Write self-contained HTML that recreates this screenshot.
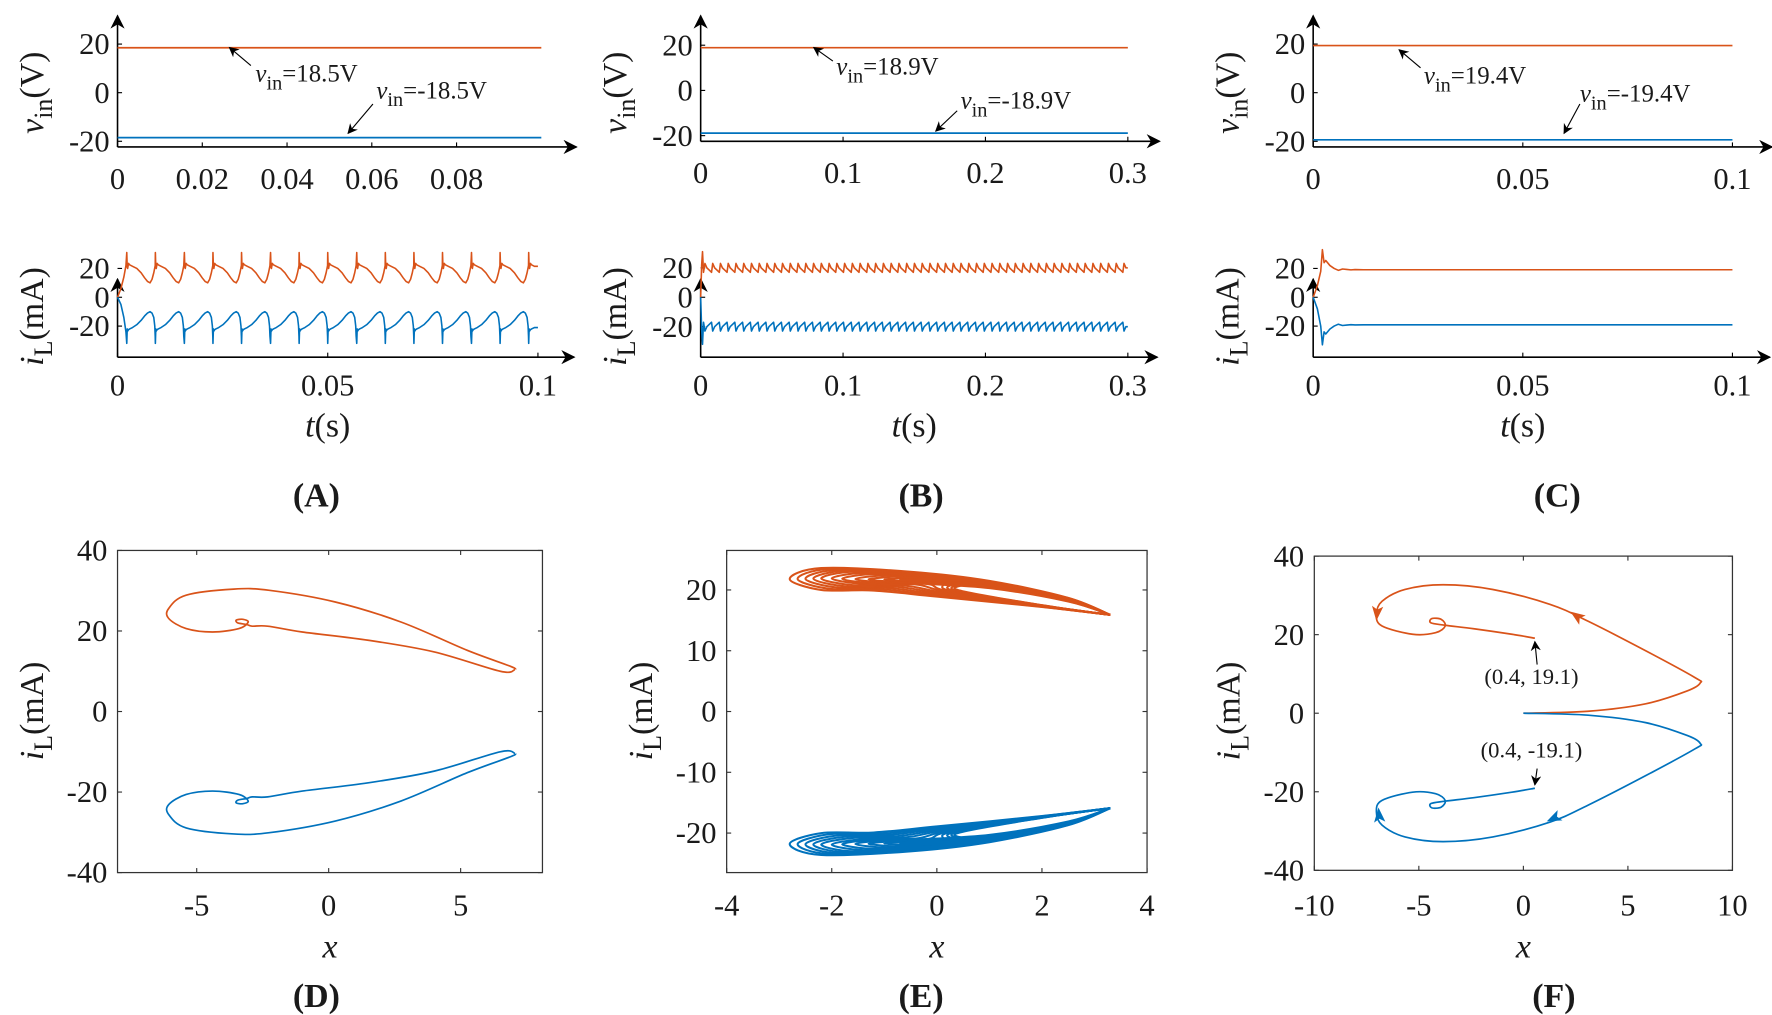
<!DOCTYPE html>
<html><head><meta charset="utf-8">
<style>
html,body{margin:0;padding:0;background:#fff;}
svg{display:block;}
text{font-family:"Liberation Serif",serif;fill:#1a1a1a;}
</style></head>
<body>
<svg id="fig" xmlns="http://www.w3.org/2000/svg" width="1772" height="1015" viewBox="0 0 1568 898" preserveAspectRatio="none">
<defs>
<marker id="ah" viewBox="0 0 10 10" refX="9" refY="5" markerWidth="9" markerHeight="9" orient="auto-start-reverse"><path d="M0,0 L10,5 L0,10 L3,5 Z" fill="#000"/></marker>
</defs>
<g id="root"></g>
</svg>
<script>
// ---------- DATA ----------
const RED = '#D95319', BLUE = '#0072BD';
const vinA = [18.5, -18.5];
const vinB = [18.9, -18.9];
const vinC = [19.4, -19.4];
const aSpikeT = [0.0022,0.0090,0.0159,0.0227,0.0295,0.0364,0.0432,0.0500,0.0569,0.0637,0.0705,0.0773,0.0842,0.0910,0.0978];
const aPeriod = 0.00683;
const aShapePhase = [0, 0.015, 0.03, 0.06, 0.1, 0.2, 0.35, 0.5, 0.62, 0.72, 0.81, 0.88, 0.94, 0.975, 0.99];
const aShapeRed   = [31, 21, 20, 23.5, 22.5, 21.5, 20, 17, 13.5, 11, 10, 12.5, 17, 20.5, 22];
const aShapeBlue  = [-32, -22, -23.5, -22.5, -22, -21, -19, -16, -13, -11, -10, -11, -14, -20, -27];
const aInitT = [0, 0.0008, 0.0015, 0.002];
const aInitRed = [0, 6, 14, 22];
const aInitBlue = [0, -5, -14, -24];
const bPeriod = 0.00545;
const bShapePhase = [0, 0.25, 0.55, 0.85];
const bShapeRed = [23, 20, 18.5, 17];
const bShapeBlue = [-23, -20, -18.5, -17];
const bInitT = [0, 0.0007, 0.0013, 0.002, 0.003];
const bInitRed = [0, 22, 31, 17, 23];
const bInitBlue = [0, -22, -32, -17, -23];
const cT = [0, 0.001, 0.0018, 0.0022, 0.0026, 0.003, 0.004, 0.005, 0.006, 0.007, 0.008, 0.009, 0.01, 0.012, 0.1];
const cRed = [0, 8, 18, 33, 24, 25.5, 22, 20, 18.7, 19.6, 19.3, 19, 19.2, 19.1, 19.1];
const cBlue = [0, -8, -20, -33, -24, -25.5, -22, -20, -18.7, -19.6, -19.3, -19, -19.2, -19.1, -19.1];
const dRedX = [7.06, 6.9, 5.25, 2.75, 0.25, -2.25, -3.6, -5.4, -6.06, -6.06, -5.4, -4.4, -3.4, -3.05, -3.25, -3.5, -3.44, -3.1, -2.9, -2.31, -1, 1.5, 4, 6.5, 7.06];
const dRedY = [10.4, 11.2, 15.2, 22.2, 27.2, 30.1, 30.4, 28.9, 25.6, 23.1, 20.6, 19.75, 20.6, 22.2, 22.9, 22.7, 22.0, 21.6, 21.2, 21.2, 19.75, 17.7, 14.8, 10.0, 10.4];
const dBlueX = [7.06, 6.9, 5.25, 2.75, 0.25, -2.25, -3.6, -5.4, -6.06, -6.06, -5.4, -4.4, -3.4, -3.05, -3.25, -3.5, -3.44, -3.1, -2.9, -2.31, -1, 1.5, 4, 6.5, 7.06];
const dBlueY = [-10.4, -11.2, -15.2, -22.2, -27.2, -30.1, -30.4, -28.9, -25.6, -23.1, -20.6, -19.75, -20.6, -22.2, -22.9, -22.7, -22.0, -21.6, -21.2, -21.2, -19.75, -17.7, -14.8, -10.0, -10.4];
const eLoopLeft = [-2.8, -2.65, -2.5, -2.35, -2.2, -2.0, -1.8, -1.55, -1.3, -1.0, -0.7];
const eRedTop = [23.6, 23.45, 23.3, 23.15, 23.0, 22.8, 22.6, 22.4, 22.2, 22.0, 21.8];
const eRedBot = [20.0, 20.2, 20.4, 20.6, 20.8, 21.0, 21.1, 21.2, 21.3, 21.4, 21.5];
const eBlueTop = [-23.6, -23.45, -23.3, -23.15, -23.0, -22.8, -22.6, -22.4, -22.2, -22.0, -21.8];
const eBlueBot = [-20.0, -20.2, -20.4, -20.6, -20.8, -21.0, -21.1, -21.2, -21.3, -21.4, -21.5];
const eRedTip = [3.3, 15.9];
const eBlueTip = [3.3, -15.9];
const eUpperX = [2.5, 1, -0.5];
const eRedUpperY = [18.7, 21.5, 23.0];
const eBlueUpperY = [-18.7, -21.5, -23.0];
const eReturnX = [0, 2];
const eRedReturnY = [18.9, 17.2];
const eBlueReturnY = [-18.9, -17.2];
const fRedX = [0, 3.1, 5.85, 7.85, 8.46, 8.2, 5.85, 3.1, 1.28, -1.46, -3.84, -5.66, -6.76, -7.03, -6.76, -5.3, -4.2, -3.74, -3.93, -4.38, -4.42, -3.74, -2.37, -0.55, 0.55];
const fRedY = [0, 0.5, 2.4, 5.7, 7.7, 9.1, 15.9, 23.4, 27.7, 31.5, 32.7, 31.5, 28.5, 25.1, 22.2, 20.1, 20.5, 22.2, 23.9, 24.1, 23.0, 22.4, 21.5, 20.1, 19.1];
const fBlueX = [0, 3.1, 5.85, 7.85, 8.46, 8.2, 5.85, 3.1, 1.28, -1.46, -3.84, -5.66, -6.76, -7.03, -6.76, -5.3, -4.2, -3.74, -3.93, -4.38, -4.42, -3.74, -2.37, -0.55, 0.55];
const fBlueY = [0, -0.5, -2.4, -5.7, -7.7, -9.1, -15.9, -23.4, -27.7, -31.5, -32.7, -31.5, -28.5, -25.1, -22.2, -20.1, -20.5, -22.2, -23.9, -24.1, -23.0, -22.4, -21.5, -20.1, -19.1];
const fArrowX = [2.56, -7.0, 1.46, -6.9];
const fArrowY = [24.7, 25.5, -26.7, -26.0];
const fArrowAng = [215, 95, 155, 265];
const ticksATop = ['0','0.02','0.04','0.06','0.08'];
const ticksAT = [0,0.02,0.04,0.06,0.08];
const ticksBT = [0,0.1,0.2,0.3];
const ticksCT = [0,0.05,0.1];
const ticksABot = [0,0.05,0.1];
const ticksVin = [20,0,-20];
const ticksIL = [20,0,-20];
const ticksDX = [-5,0,5], ticksDY = [40,20,0,-20,-40];
const ticksEX = [-4,-2,0,2,4], ticksEY = [20,10,0,-10,-20];
const ticksFX = [-10,-5,0,5,10], ticksFY = [40,20,0,-20,-40];

// ---------- HELPERS ----------
const NS = 'http://www.w3.org/2000/svg';
const root = document.getElementById('root');
const TF = 27, TITLE = 30;
function mk(tag, attrs, parent){ const e=document.createElementNS(NS,tag); for(const k in attrs) e.setAttribute(k,attrs[k]); (parent||root).appendChild(e); return e; }
function lin(d0,d1,r0,r1){ return v => r0 + (v-d0)/(d1-d0)*(r1-r0); }
function fmt(v){ return String(v); }
function polyD(xs,ys){ return xs.map((x,i)=>(i?'L':'M')+x.toFixed(2)+','+ys[i].toFixed(2)).join(''); }
function smoothD(P){
  let d='M'+P[0][0].toFixed(2)+','+P[0][1].toFixed(2);
  for(let i=0;i<P.length-1;i++){
    const p0=P[Math.max(0,i-1)],p1=P[i],p2=P[i+1],p3=P[Math.min(P.length-1,i+2)];
    const c1=[p1[0]+(p2[0]-p0[0])/6,p1[1]+(p2[1]-p0[1])/6];
    const c2=[p2[0]-(p3[0]-p1[0])/6,p2[1]-(p3[1]-p1[1])/6];
    d+='C'+c1[0].toFixed(2)+','+c1[1].toFixed(2)+' '+c2[0].toFixed(2)+','+c2[1].toFixed(2)+' '+p2[0].toFixed(2)+','+p2[1].toFixed(2);
  }
  return d;
}
function txt(x,y,s,size,anchor,parent,name){
  const t=mk('text',{x:x,y:y,'font-size':size,'text-anchor':anchor||'middle'},parent);
  t.textContent=s;
  
  
  return t;
}
function richLabel(x,y,parts,size,rotate,name){
  const t=mk('text',{x:x,y:y,'font-size':size,'text-anchor':'middle'});
  if(rotate) t.setAttribute('transform','rotate(-90 '+x+' '+y+')');
  
  
  parts.forEach(p=>{ const s=mk('tspan',{},t); s.textContent=p.t; if(p.i) s.setAttribute('font-style','italic'); if(p.dy) s.setAttribute('dy',p.dy); if(p.fs) s.setAttribute('font-size',p.fs); });
  return t;
}
function arrowAxes(g, x0, y0, xEnd, yTop, name){
  const a=mk('line',{x1:x0,y1:y0,x2:xEnd,y2:y0,stroke:'#000','stroke-width':1.4,'marker-end':'url(#ah)'},g);
  
  
  const b=mk('line',{x1:x0,y1:y0,x2:x0,y2:yTop,stroke:'#000','stroke-width':1.4,'marker-end':'url(#ah)'},g);
  
  
}
function series(g, d, color, name, w){
  const p=mk('path',{d:d,fill:'none',stroke:color,'stroke-width':w||1.5,'stroke-linejoin':'round'},g);
  
  
  return p;
}
function annot(g, tx, ty, x1,y1,x2,y2, valText, name){
  const l=mk('line',{x1:x1,y1:y1,x2:x2,y2:y2,stroke:'#000','stroke-width':1,'marker-end':'url(#ah)'},g);
  
  
  const t=mk('text',{x:tx,y:ty,'font-size':22},g);
  
  
  const a=mk('tspan',{'font-style':'italic'},t); a.textContent='v';
  const b=mk('tspan',{dy:7,'font-size':18},t); b.textContent='in';
  const c=mk('tspan',{dy:-7},t); c.textContent=valText;
}

// ---------- TOP TIME PANELS ----------
function topPanel(key, x0, xEndData, tMax, axisY, yScale, yMid, ticksT, tickLabels, vin, ann, labBase){
  const g=mk('g',{});  
  const X=lin(0,tMax,x0,xEndData); const Y=v=>yMid - v*yScale;
  arrowAxes(g,x0,axisY,x0+406,14,'vin-'+key);
  ticksT.forEach((t,i)=>{ mk('line',{x1:X(t),y1:axisY,x2:X(t),y2:axisY-4,stroke:'#000','stroke-width':1},g); txt(X(t),labBase,tickLabels?tickLabels[i]:fmt(t),TF,'middle',g,'x-tick-label'); });
  ticksVin.forEach(v=>{ mk('line',{x1:x0,y1:Y(v),x2:x0+4,y2:Y(v),stroke:'#000','stroke-width':1},g); txt(x0-7,Y(v)+9,fmt(v),TF,'end',g,'y-tick-label'); });
  series(g,polyD([X(0),X(tMax)],[Y(vin[0]),Y(vin[0])]),RED,'vin-positive-line');
  series(g,polyD([X(0),X(tMax)],[Y(vin[1]),Y(vin[1])]),BLUE,'vin-negative-line');
  annot(g,ann[0][0],ann[0][1],ann[0][2],ann[0][3],ann[0][4],ann[0][5],'='+vin[0]+'V','vin-positive-annotation');
  annot(g,ann[1][0],ann[1][1],ann[1][2],ann[1][3],ann[1][4],ann[1][5],'='+vin[1]+'V','vin-negative-annotation');
  richLabel(x0-66,82,[{t:'v',i:1},{t:'in',dy:8,fs:23},{t:'(V)',dy:-8}],TITLE,true,'vin-y-axis-title');
}
topPanel('a',104,479,0.1,130,2.15,82,ticksAT,ticksATop,vinA,[[226,72,222,58,203,42],[333,87,330,92,308,118]],167);
topPanel('b',620,998,0.3,125,2.0,80,ticksBT,null,vinB,[[740,66,737,54,720,42],[850,96,847,98,828,116]],162);
topPanel('c',1162,1533,0.1,130,2.15,82,ticksCT,null,vinC,[[1260,74,1257,60,1238,44],[1398,90,1398,92,1384,118]],167);

// ---------- BOTTOM TIME PANELS ----------
function periodicSeries(initT, initV, spikes, period, phase, vals, tMax){
  const ts=initT.slice(), vs=initV.slice();
  spikes.forEach(s=>{ phase.forEach((p,j)=>{ const t=s+p*period; if(t<=tMax){ ts.push(t); vs.push(vals[j]); } }); });
  const last=vs[vs.length-1]; ts.push(tMax); vs.push(last);
  return [ts,vs];
}
function bottomPanel(key, x0, xEndData, tMax, yScale, ticksT, seriesList){
  const g=mk('g',{});  
  const X=lin(0,tMax,x0,xEndData); const Y=v=>263 - v*yScale;
  arrowAxes(g,x0,316,x0+404,247,'il-'+key);
  ticksT.forEach(t=>{ mk('line',{x1:X(t),y1:316,x2:X(t),y2:312,stroke:'#000','stroke-width':1},g); txt(X(t),350,fmt(t),TF,'middle',g,'x-tick-label'); });
  ticksIL.forEach(v=>{ mk('line',{x1:x0,y1:Y(v),x2:x0+4,y2:Y(v),stroke:'#000','stroke-width':1},g); txt(x0-7,Y(v)+9,fmt(v),TF,'end',g,'y-tick-label'); });
  seriesList.forEach(s=>series(g,polyD(s[0].map(X),s[1].map(Y)),s[2],s[3],1.4));
  richLabel(x0-66,280,[{t:'i',i:1},{t:'L',dy:8,fs:23},{t:'(mA)',dy:-8}],TITLE,true,'il-y-axis-title');
  richLabel(X(tMax/2),386,[{t:'t',i:1},{t:'(s)'}],TITLE,false,'time-x-axis-title');
}
const aR=periodicSeries(aInitT,aInitRed,aSpikeT,aPeriod,aShapePhase,aShapeRed,0.1);
const aB=periodicSeries(aInitT,aInitBlue,aSpikeT,aPeriod,aShapePhase,aShapeBlue,0.1);
bottomPanel('a',104,476,0.1,1.275,ticksABot,[[aR[0],aR[1],RED,'il-positive-series'],[aB[0],aB[1],BLUE,'il-negative-series']]);
const bSpikes=[]; for(let t=bInitT[bInitT.length-1]; t<0.3; t+=bPeriod) bSpikes.push(t);
const bR=periodicSeries(bInitT.slice(0,-1),bInitRed.slice(0,-1),bSpikes,bPeriod,bShapePhase,bShapeRed,0.3);
const bB=periodicSeries(bInitT.slice(0,-1),bInitBlue.slice(0,-1),bSpikes,bPeriod,bShapePhase,bShapeBlue,0.3);
bottomPanel('b',620,998,0.3,1.3,ticksBT,[[bR[0],bR[1],RED,'il-positive-series'],[bB[0],bB[1],BLUE,'il-negative-series']]);
bottomPanel('c',1162,1533,0.1,1.275,ticksCT,[[cT,cRed,RED,'il-positive-series'],[cT,cBlue,BLUE,'il-negative-series']]);

[['(A)',280,448],['(B)',815,448],['(C)',1378,448],['(D)',280,891],['(E)',815,891],['(F)',1375,891]].forEach(p=>{
  const t=txt(p[1],p[2],p[0],30,'middle',root,'panel-label-'+p[0].charAt(1).toLowerCase());
  t.setAttribute('font-weight','bold');
});

// ---------- PHASE PANELS ----------
function boxPanel(key, bx0,bx1,by0,by1, xr, yr, tx, ty){
  const g=mk('g',{});  
  const X=lin(xr[0],xr[1],bx0,bx1), Y=lin(yr[0],yr[1],by1,by0);
  const r=mk('rect',{x:bx0,y:by0,width:bx1-bx0,height:by1-by0,fill:'none',stroke:'#333','stroke-width':1.1},g);
   
  tx.forEach(v=>{ mk('line',{x1:X(v),y1:by1,x2:X(v),y2:by1-4,stroke:'#333'},g); mk('line',{x1:X(v),y1:by0,x2:X(v),y2:by0+4,stroke:'#333'},g); txt(X(v),810,fmt(v),TF,'middle',g,'x-tick-label'); });
  ty.forEach(v=>{ mk('line',{x1:bx0,y1:Y(v),x2:bx0+4,y2:Y(v),stroke:'#333'},g); mk('line',{x1:bx1,y1:Y(v),x2:bx1-4,y2:Y(v),stroke:'#333'},g); txt(bx0-9,Y(v)+9,fmt(v),TF,'end',g,'y-tick-label'); });
  richLabel((bx0+bx1)/2,847,[{t:'x',i:1}],TITLE,false,'x-axis-title');
  richLabel(bx0-66,629,[{t:'i',i:1},{t:'L',dy:8,fs:23},{t:'(mA)',dy:-8}],TITLE,true,'il-y-axis-title');
  return {g:g,X:X,Y:Y};
}
const D=boxPanel('d',104,480,487,772,[-8,8.1],[-40,40],ticksDX,ticksDY);
series(D.g,smoothD(dRedX.map((x,i)=>[D.X(x),D.Y(dRedY[i])])),RED,'limit-cycle-positive');
series(D.g,smoothD(dBlueX.map((x,i)=>[D.X(x),D.Y(dBlueY[i])])),BLUE,'limit-cycle-negative');

const E=boxPanel('e',643,1015,487,772,[-4,4],[-26.5,26.5],ticksEX,ticksEY);
function eLoops(top,bot,tip,upY,retY,color,name){
  const s = tip[1]>0?1:-1;
  eLoopLeft.forEach((L,i)=>{
    const off=top[i]-top[0];
    const boff=bot[i]-bot[0];
    const P=[[tip[0],tip[1]]];
    eUpperX.forEach((x,j)=>P.push([x,upY[j]+off*(j+1)/3]));
    P.push([L+0.6,top[i]]); P.push([L,(top[i]+bot[i])/2]); P.push([L+0.6,bot[i]]);
    P.push([L+1.6,bot[i]-s*0.1]);
    for(let j=0;j<eReturnX.length;j++) P.push([eReturnX[j]+(j?0:0.4*(i/eLoopLeft.length)), retY[j]+boff*(j?0.2:0.8)]);
    P.push([tip[0],tip[1]]);
    series(E.g,smoothD(P.map(p=>[E.X(p[0]),E.Y(p[1])])),color,name,1.8);
  });
}
eLoops(eRedTop,eRedBot,eRedTip,eRedUpperY,eRedReturnY,RED,'chaotic-attractor-positive');
eLoops(eBlueTop,eBlueBot,eBlueTip,eBlueUpperY,eBlueReturnY,BLUE,'chaotic-attractor-negative');

const F=boxPanel('f',1163,1533,492,770,[-10,10],[-40,40],ticksFX,ticksFY);
series(F.g,smoothD(fRedX.map((x,i)=>[F.X(x),F.Y(fRedY[i])])),RED,'trajectory-positive');
series(F.g,smoothD(fBlueX.map((x,i)=>[F.X(x),F.Y(fBlueY[i])])),BLUE,'trajectory-negative');
fArrowX.forEach((x,i)=>{
  const px=F.X(x), py=F.Y(fArrowY[i]);
  const p=mk('path',{d:'M7,0 L-6,-5 L-3,0 L-6,5 Z',fill:fArrowY[i]>0?RED:BLUE,transform:'translate('+px+','+py+') rotate('+fArrowAng[i]+')'},F.g);
  
  
});
[[fRedX[fRedX.length-1],fRedY[fRedY.length-1],597,590,'(0.4, 19.1)'],[fBlueX[fBlueX.length-1],fBlueY[fBlueY.length-1],676,676,'(0.4, -19.1)']].forEach((a,k)=>{
  const px=F.X(a[0]), py=F.Y(a[1]);
  const l=mk('line',{x1:px+2,y1:k?a[3]+4:a[3]-2,x2:px,y2:k?py-3:py+3,stroke:'#000','stroke-width':1,'marker-end':'url(#ah)'},F.g);
  
  
  txt(px-3,k?a[2]-6:a[2]+8,a[4],20,'middle',F.g,'equilibrium-label');
});
</script>
</body></html>
